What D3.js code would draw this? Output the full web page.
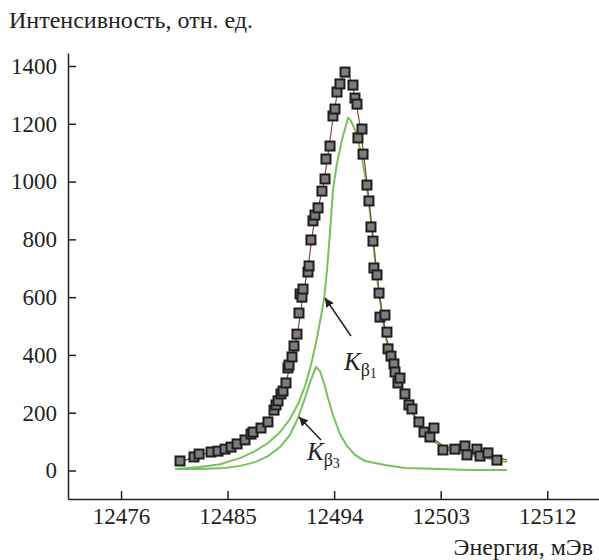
<!DOCTYPE html>
<html><head><meta charset="utf-8">
<script src="https://cdn.jsdelivr.net/npm/d3@7"></script>
<style>
svg text, svg tspan { font-family: "Liberation Serif", "Tinos", "Times New Roman", monospace !important; }
</style>
</head><body style="margin:0"><svg id="c" width="599" height="560"></svg>
<script>
const xTicks = [12476, 12485, 12494, 12503, 12512];
const yTicks = [0, 200, 400, 600, 800, 1000, 1200, 1400];
const yTitle = "Интенсивность, отн. ед.";
const xTitle = "Энергия, мЭв";

// measured points
const dataE = [12480.98,12482.16,12482.59,12483.60,12484.19,12484.78,12485.29,12485.80,12486.47,12486.98,12487.15,12487.82,12488.41,12488.92,12489.09,12489.26,12489.51,12489.68,12489.93,12490.10,12490.19,12490.44,12490.61,12490.86,12491.03,12491.12,12491.28,12491.37,12491.79,12491.88,12492.04,12492.21,12492.38,12492.64,12492.97,12493.23,12493.31,12493.65,12493.90,12494.07,12494.24,12494.49,12494.92,12495.59,12495.76,12495.93,12496.01,12496.35,12496.44,12496.77,12496.94,12497.11,12497.28,12497.36,12497.62,12497.79,12497.87,12498.29,12498.46,12498.55,12498.80,12499.05,12499.14,12499.39,12499.56,12499.98,12500.32,12500.57,12501.16,12501.59,12502.09,12502.43,12503.19,12504.20,12505.05,12505.22,12506.06,12506.32,12506.99,12507.75];
const dataI = [33,47,57,64,67,74,81,92,106,126,133,147,168,209,227,241,265,275,303,355,365,393,431,472,545,611,600,628,687,708,798,864,884,909,967,1009,1078,1123,1227,1251,1310,1338,1379,1334,1289,1268,1151,1182,1095,988,933,843,794,701,677,614,531,538,479,421,396,369,341,303,320,265,227,213,168,133,116,147,71,74,85,54,74,50,61,36];

// total fit
const fitE = [12480.98,12482.67,12484.36,12486.05,12487.32,12488.16,12489.00,12489.85,12490.44,12490.95,12491.37,12491.79,12492.21,12492.64,12493.06,12493.48,12493.90,12494.32,12494.83,12495.34,12495.76,12496.18,12496.60,12496.94,12497.28,12497.62,12498.04,12498.46,12498.97,12499.56,12500.24,12500.91,12501.67,12502.52,12503.36,12504.63,12505.89,12507.16,12508.60];
const fitI = [29,54,71,95,130,161,216,296,382,486,607,701,832,909,978,1092,1220,1317,1376,1358,1296,1196,1057,936,805,677,549,452,376,306,234,182,140,106,81,71,64,54,36];

// K beta 1 component
const kb1E = [12480.56,12482.67,12484.36,12486.05,12487.32,12488.41,12489.43,12490.27,12490.95,12491.54,12492.04,12492.47,12492.80,12493.14,12493.40,12493.65,12493.90,12494.24,12494.66,12495.17,12495.42,12495.76,12496.01,12496.35,12496.60,12496.94,12497.28,12497.62,12498.04,12498.46,12498.97,12499.56,12500.24,12500.91,12501.67,12502.52,12503.36,12504.63,12505.89,12507.16,12508.60];
const kb1I = [5,12,22,43,67,95,133,178,230,292,365,441,514,590,694,825,971,1064,1144,1220,1210,1178,1144,1082,1023,926,798,666,538,441,365,296,227,175,133,99,74,61,50,40,29];

// K beta 3 component
const kb3E = [12480.56,12482.67,12484.78,12486.05,12487.32,12488.41,12489.43,12490.27,12490.95,12491.54,12491.96,12492.47,12492.80,12493.14,12493.48,12493.90,12494.49,12495.08,12495.76,12496.60,12498.29,12499.98,12502.94,12505.47,12508.60];
const kb3I = [5,5,9,16,29,50,81,123,182,251,306,358,344,303,251,192,126,85,54,33,19,9,5,2,2];

const FONT = '"Liberation Serif", "Tinos", "Times New Roman", monospace';
const INK = "#231f20";

const svg = d3.select("#c");
const x = d3.scaleLinear().domain([12471.52, 12516.37]).range([68, 599]);
const y = d3.scaleLinear().domain([-98.6, 1445]).range([499, 53]);

const defs = svg.append("defs");
defs.append("marker").attr("id","ah").attr("viewBox","0 0 10 10").attr("refX",10).attr("refY",5)
  .attr("markerWidth",9).attr("markerHeight",9).attr("markerUnits","userSpaceOnUse").attr("orient","auto")
  .append("path").attr("d","M0,0L10,5L0,10z").attr("fill",INK);

// axes
const gx = svg.append("g").attr("transform","translate(0,499)")
  .call(d3.axisBottom(x).tickValues(xTicks).tickSize(-8).tickSizeOuter(0).tickPadding(9).tickFormat(d3.format("d")));
const gy = svg.append("g").attr("transform","translate(68,0)")
  .call(d3.axisLeft(y).tickValues(yTicks).tickSize(-8).tickSizeOuter(0).tickPadding(11).tickFormat(d3.format("d")));
[gx, gy].forEach(g => {
  g.attr("font-family", FONT).attr("font-size", 23);
  g.selectAll("path.domain").attr("stroke",INK).attr("stroke-width",1.5);
  g.selectAll(".tick line").attr("stroke",INK).attr("stroke-width",1.5);
  g.selectAll(".tick text").attr("font-family", FONT).attr("font-size",23).attr("fill",INK);
});

svg.append("text").attr("x",9).attr("y",28).attr("font-family", FONT).attr("font-size",24).attr("fill",INK).text(yTitle);
svg.append("text").attr("x",593).attr("y",555).attr("text-anchor","end").attr("font-family", FONT).attr("font-size",24).attr("fill",INK).text(xTitle);

const line = d3.line().x(d => x(d[0])).y(d => y(d[1]));
const zip = (a,b) => a.map((v,i) => [v,b[i]]);

svg.append("path").datum(zip(kb3E,kb3I)).attr("d",line).attr("fill","none").attr("stroke","#78c060").attr("stroke-width",2);
svg.append("path").datum(zip(kb1E,kb1I)).attr("d",line).attr("fill","none").attr("stroke","#78c060").attr("stroke-width",2);
svg.append("path").datum(zip(fitE,fitI)).attr("d",line).attr("fill","none").attr("stroke","#8c4a3c").attr("stroke-width",1.2);

svg.append("g").selectAll("rect").data(zip(dataE,dataI)).join("rect")
  .attr("x", d => x(d[0]) - 4.5).attr("y", d => y(d[1]) - 4.5)
  .attr("width",9).attr("height",9)
  .attr("fill","#7d7d7d").attr("stroke","#1e1e1e").attr("stroke-width",2);

// annotations
svg.append("line").attr("x1",351).attr("y1",336).attr("x2",325).attr("y2",298).attr("stroke",INK).attr("stroke-width",1.5).attr("marker-end","url(#ah)");
svg.append("line").attr("x1",321).attr("y1",440).attr("x2",299).attr("y2",417).attr("stroke",INK).attr("stroke-width",1.5).attr("marker-end","url(#ah)");

function klabel(px, py, sub) {
  const t = svg.append("text").attr("x",px).attr("y",py).attr("font-family", FONT).attr("font-size",25).attr("fill",INK);
  t.append("tspan").attr("font-style","italic").text("K");
  t.append("tspan").attr("font-size",18).attr("dy",6).text("β");
  t.append("tspan").attr("font-size",14).attr("dy",2).text(sub);
}
klabel(344, 370, "1");
klabel(307, 460, "3");
</script></body></html>
